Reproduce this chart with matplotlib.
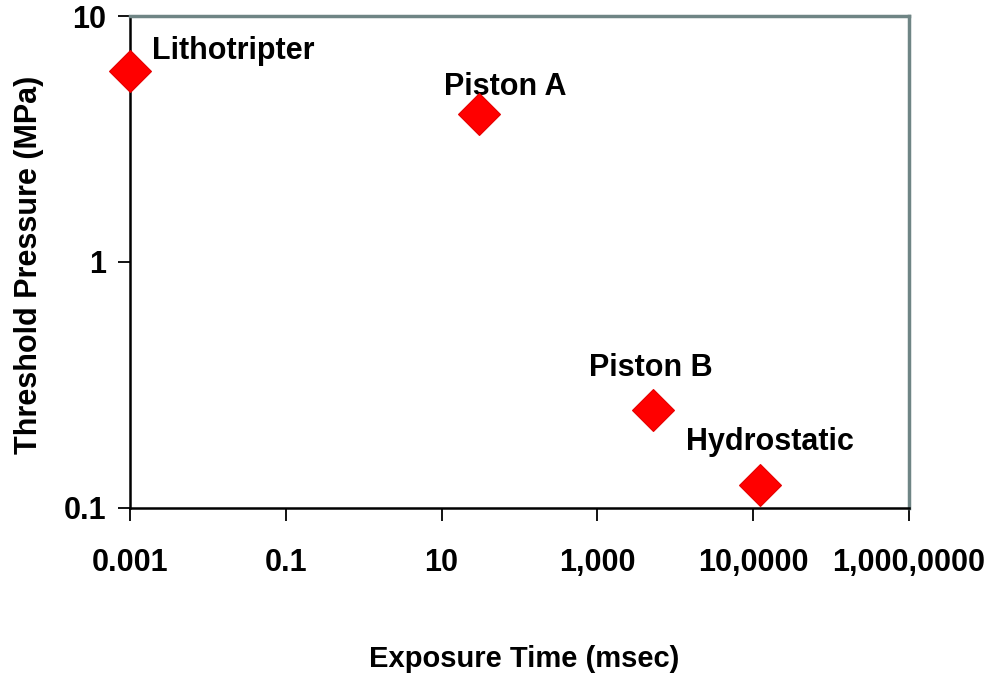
import matplotlib
matplotlib.use("Agg")
import matplotlib.pyplot as plt

# Threshold pressure vs. exposure time for each loading method
methods = ["Lithotripter", "Piston A", "Piston B", "Hydrostatic"]
exposure_ms = [0.001, 30, 5200, 124000]
threshold_mpa = [6.0, 4.0, 0.25, 0.123]

x_ticks = [1e-3, 1e-1, 1e1, 1e3, 1e5, 1e7]
x_tick_labels = ["0.001", "0.1", "10", "1,000", "10,0000", "1,000,0000"]
y_ticks = [0.1, 1, 10]
y_tick_labels = ["0.1", "1", "10"]

# label placement (offset points from marker, horizontal alignment)
label_offsets = [(15.8, 8.0, "left"), (19.4, 13.7, "center"),
                 (-1.8, 24.5, "center"), (6.5, 25.2, "center")]

plt.rcParams["font.family"] = ["Liberation Sans", "DejaVu Sans"]
plt.rcParams["font.weight"] = "bold"

W, H = 1006, 678
fig = plt.figure(figsize=(W / 100, H / 100), dpi=100)
ax = fig.add_axes([130 / W, 1 - 507.5 / H, 779 / W, 491.5 / H])

ax.set_xscale("log")
ax.set_yscale("log")
ax.set_xlim(1e-3, 1e7)
ax.set_ylim(0.1, 10)

ax.plot(exposure_ms, threshold_mpa, linestyle="none", marker="D",
        markersize=21.5, markerfacecolor="#ff0000",
        markeredgecolor="#e40000", markeredgewidth=0.8,
        clip_on=False, zorder=5)

for name, x, y, (dx, dy, ha) in zip(methods, exposure_ms, threshold_mpa, label_offsets):
    ax.annotate(name, (x, y), xytext=(dx, dy), textcoords="offset points",
                ha=ha, va="baseline", fontsize=22, fontweight="bold")

ax.set_xticks(x_ticks)
ax.set_xticklabels(x_tick_labels)
ax.set_yticks(y_ticks)
ax.set_yticklabels(y_tick_labels)
ax.minorticks_off()
ax.tick_params(axis="both", direction="out", length=9, width=1.3,
               colors="black", labelsize=22)
ax.tick_params(axis="x", pad=20)
ax.tick_params(axis="y", pad=8)
for lbl in ax.get_xticklabels() + ax.get_yticklabels():
    lbl.set_fontweight("bold")

for side in ["left", "bottom"]:
    ax.spines[side].set_color("black")
    ax.spines[side].set_linewidth(1.8)
for side in ["top", "right"]:
    ax.spines[side].set_color("#6f8585")
    ax.spines[side].set_linewidth(2.5)

ax.set_xlabel("Exposure Time (msec)", fontsize=21, fontweight="bold", va="top")
ax.xaxis.set_label_coords(0.506, -0.28)
ax.set_ylabel("Threshold Pressure (MPa)", fontsize=22, fontweight="bold", va="center")
ax.yaxis.set_label_coords(-0.1297, 0.493)

fig.savefig("out.png", dpi=100)
